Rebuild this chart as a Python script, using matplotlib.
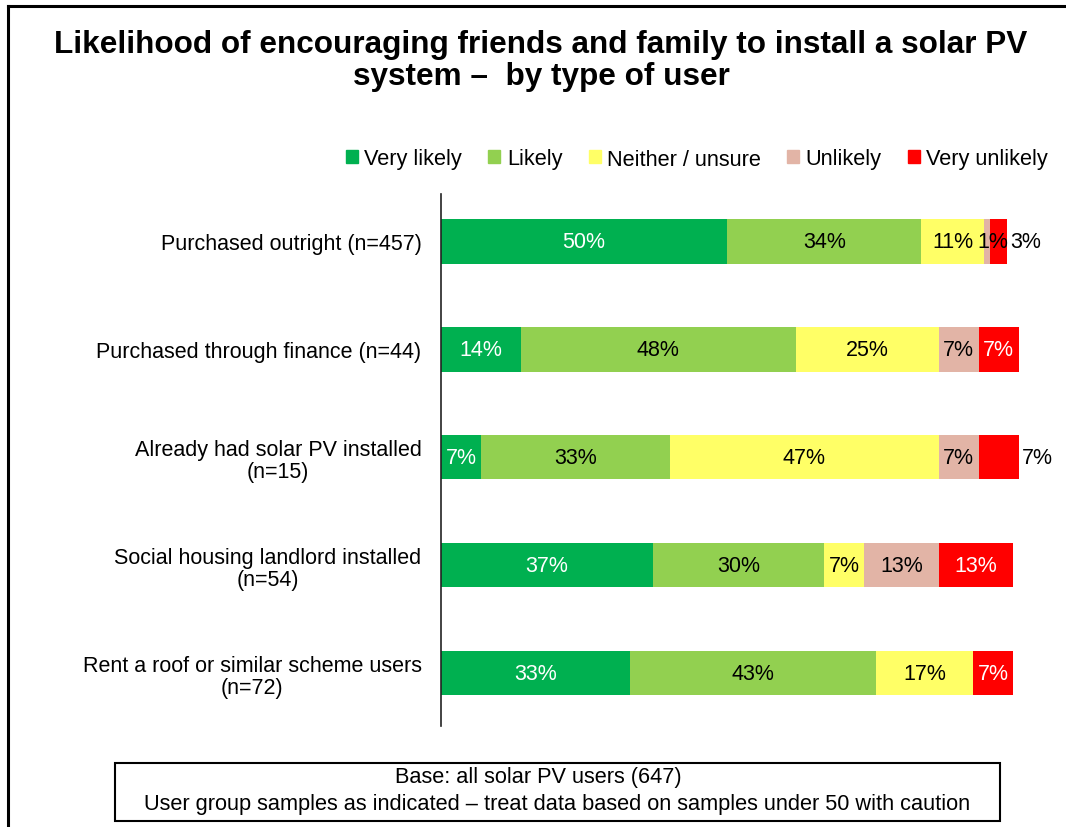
import matplotlib
matplotlib.use("Agg")
import matplotlib.pyplot as plt
from matplotlib.lines import Line2D
from matplotlib.patches import Rectangle
import numpy as np

plt.rcParams['font.family'] = ['Liberation Sans', 'DejaVu Sans']

categories = [
    "Purchased outright (n=457)",
    "Purchased through finance (n=44)",
    "Already had solar PV installed\n(n=15)",
    "Social housing landlord installed\n(n=54)",
    "Rent a roof or similar scheme users\n(n=72)",
]
series_names = ["Very likely", "Likely", "Neither / unsure", "Unlikely", "Very unlikely"]
very_likely = [50, 14, 7, 37, 33]
likely = [34, 48, 33, 30, 43]
neither = [11, 25, 47, 7, 17]
unlikely = [1, 7, 7, 13, 0]
very_unlikely = [3, 7, 7, 13, 7]

series = [very_likely, likely, neither, unlikely, very_unlikely]
colors = ["#00B050", "#92D050", "#FFFF66", "#E2B4A6", "#FF0000"]
text_colors = ["white", "black", "black", "black", "white"]

fig = plt.figure(figsize=(10.66, 8.28), dpi=100)
ax = fig.add_axes([441 / 1066, 1 - 727 / 828, 572 / 1066, 532 / 828])

y = np.arange(len(categories))
left = np.zeros(len(categories))
for name, vals, col, tcol in zip(series_names, series, colors, text_colors):
    vals = np.array(vals, dtype=float)
    ax.barh(y, vals, left=left, height=0.41, color=col, label=name, clip_on=False)
    for i, v in enumerate(vals):
        if v <= 0:
            continue
        cx = left[i] + v / 2
        c = tcol
        # narrow end segments carry their label just past the bar
        if name == "Very unlikely" and i in (0, 2):
            cx = left[i] + v + 3.2
            c = "black"
        # keep the tiny 1% label clear of its neighbour
        if name == "Unlikely" and v < 3:
            cx += 1.0
        ax.text(cx, i, f"{int(v)}%", ha="center", va="center",
                fontsize=15.5, color=c, clip_on=False)
    left += vals

ax.set_xlim(0, 100)
ax.set_ylim(4.49, -0.44)
ax.set_yticks(y)
ax.set_yticklabels(categories, fontsize=15.5, ha="right", multialignment="center",
                   linespacing=1.1)
ax.tick_params(axis="y", length=0, pad=14)
ax.set_xticks([])
for s in ["top", "right", "bottom"]:
    ax.spines[s].set_visible(False)
ax.spines["left"].set_color("#222222")
ax.spines["left"].set_linewidth(1.2)

fig.text(541 / 1066, 1 - 61 / 828,
         "Likelihood of encouraging friends and family to install a solar PV\nsystem \u2013  by type of user",
         ha="center", va="center", fontsize=22.7, fontweight="bold", linespacing=1.05)

handles = [Rectangle((0, 0), 1, 1, color=c) for c in colors]
fig.legend(handles, series_names, loc="center", bbox_to_anchor=(697 / 1066, 1 - 160 / 828),
           ncol=5, frameon=False, fontsize=15.7, handlelength=0.55, handleheight=0.55,
           handletextpad=0.3, columnspacing=1.2)

# outer frame lines on the left and top
fig.add_artist(Line2D([8 / 1066, 8 / 1066], [0, 1 - 7 / 828], transform=fig.transFigure,
                      color="black", lw=2.2))
fig.add_artist(Line2D([8 / 1066, 1], [1 - 7 / 828, 1 - 7 / 828], transform=fig.transFigure,
                      color="black", lw=2.2))

# footnote box
fig.add_artist(Rectangle((115 / 1066, 1 - 822 / 828), 885 / 1066, 58 / 828,
                         transform=fig.transFigure, fill=False, edgecolor="black", lw=1.5))
fig.text(538 / 1066, 1 - 778 / 828, "Base: all solar PV users (647)", ha="center", va="center",
         fontsize=15.7)
fig.text(557 / 1066, 1 - 805 / 828,
         "User group samples as indicated \u2013 treat data based on samples under 50 with caution",
         ha="center", va="center", fontsize=15.7)

fig.savefig("out.png", dpi=100)
